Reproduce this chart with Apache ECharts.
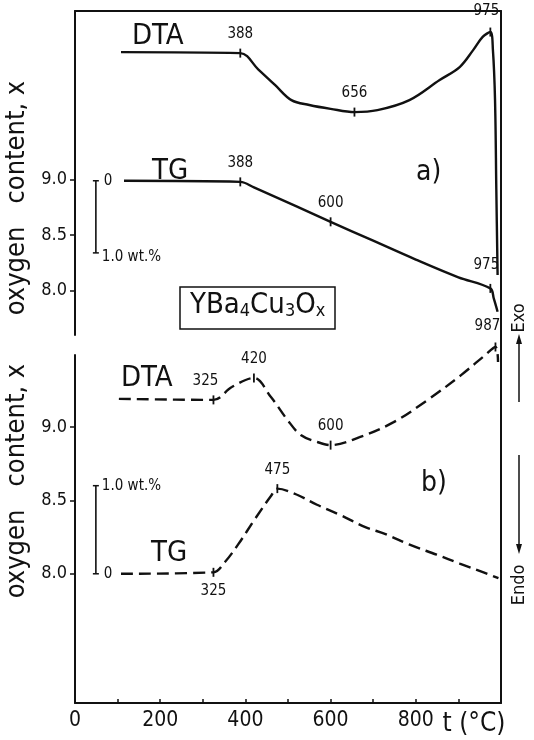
<!DOCTYPE html>
<html><head><meta charset="utf-8">
<script src="https://cdn.jsdelivr.net/npm/echarts@6/dist/echarts.min.js"></script>
<style>html,body{margin:0;padding:0;background:#fff}#c{width:534px;height:740px}</style>
</head><body><div id="c"></div>
<script>
// ---------------- data ----------------
const tempLabels = [0, 200, 400, 600, 800];          // labelled x ticks (°C)
const oxyTicks = [8.0, 8.5, 9.0];                     // oxygen content ticks

// a) DTA, arbitrary units (exo up)
const dtaA_t = [108, 388, 430, 470, 508, 550, 600, 656, 710, 785, 856, 903, 935, 957, 975, 981, 986, 989, 992];
const dtaA_v = [87.3, 87.0, 82.0, 77.1, 72.5, 71.0, 69.8, 68.8, 69.4, 72.5, 78.7, 82.7, 88.0, 92.0, 93.5, 88.0, 72.5, 45.0, 18.5];
const dtaA_marks = [388, 656, 975];

// a) TG, oxygen content x
const tgA_t = [115, 388, 420, 520, 600, 700, 800, 900, 975, 983, 992];
const tgA_x = [8.99, 8.98, 8.93, 8.76, 8.62, 8.45, 8.28, 8.12, 8.02, 7.93, 7.81];
const tgA_marks = [388, 600, 975];

// b) DTA, arbitrary units
const dtaB_t = [103, 325, 368, 420, 460, 499, 530, 569, 600, 668, 748, 828, 907, 963, 987, 993];
const dtaB_v = [87.4, 87.1, 90.8, 93.4, 87.9, 81.3, 77.0, 75.0, 74.1, 76.4, 80.7, 87.1, 94.3, 100.0, 102.3, 98.0];
const dtaB_marks = [325, 420, 600, 987];

// b) TG, oxygen content x
const tgB_t = [108, 325, 352, 383, 424, 460, 475, 520, 568, 623, 680, 729, 784, 849, 903, 959, 994];
const tgB_x = [8.00, 8.01, 8.08, 8.20, 8.38, 8.53, 8.58, 8.54, 8.47, 8.40, 8.32, 8.27, 8.20, 8.13, 8.07, 8.01, 7.97];
const tgB_marks = [325, 475];

// 1.0 wt.% scale bars: [temperature, top value, bottom value]
const scaleA = [49, 8.99, 8.34];
const scaleB = [49, 8.60, 8.00];
const scaleText = ['0', '1.0 wt.%'];

// ---------------- chart ----------------
const FONT = "'DejaVu Sans Condensed','Liberation Sans Narrow','Arial Narrow',sans-serif";
const INK = '#111';
const L = 75, R = 33;

const markLabel = {
  dtaA: {388: ['top', [0, -2]], 656: ['top', [0, -2]], 975: ['top', [-4, -4]]},
  tgA:  {388: ['top', [0, -2]], 600: ['top', [0, -2]], 975: ['top', [-4, -6]]},
  dtaB: {325: ['top', [-8, -2]], 420: ['top', [0, -2]], 600: ['top', [0, -2]], 987: ['top', [-8, -4]]},
  tgB:  {325: ['bottom', [0, 2]], 475: ['top', [0, -2]]}
};

function build(ts, vs, marks, key) {
  return ts.map((t, i) => {
    if (marks.indexOf(t) >= 0) {
      const p = markLabel[key][t];
      return {
        value: [t, vs[i]],
        symbol: 'rect', symbolSize: [1.8, 9],
        itemStyle: {color: INK},
        label: {show: true, formatter: String(t), position: p[0], offset: p[1],
                fontFamily: FONT, fontSize: 15, color: INK}
      };
    }
    return {value: [t, vs[i]], symbol: 'none'};
  });
}

function scaleBar(s, topLbl, botLbl, topOff, botOff) {
  return [
    {value: [s[0], s[1]], label: {show: true, formatter: topLbl, position: 'right', offset: topOff,
      fontFamily: FONT, fontSize: 15, color: INK}},
    {value: [s[0], s[2]], label: {show: true, formatter: botLbl, position: 'right', offset: botOff,
      fontFamily: FONT, fontSize: 15, color: INK}}
  ];
}

const chart = echarts.init(document.getElementById('c'), null, {renderer: 'canvas'});
const solid = {color: INK, width: 2.4};
const dashed = {color: INK, width: 2.4, type: [12, 6]};

const hiddenX = (g) => ({type: 'value', gridIndex: g, min: 0, max: 1000, show: false});
const oxyAxis = (g, mn, mx, padding) => ({
  type: 'value', gridIndex: g, position: 'left', min: mn, max: mx,
  name: 'oxygen   content, x', nameLocation: 'middle', nameRotate: 90, nameGap: 36,
  nameTextStyle: {fontFamily: FONT, fontSize: 27, color: INK, padding: padding},
  axisLine: {show: true, lineStyle: {color: INK, width: 2}},
  axisTick: {show: true, inside: false, length: 5, customValues: oxyTicks, lineStyle: {color: INK, width: 1.5}},
  axisLabel: {show: true, customValues: oxyTicks, margin: 8, fontFamily: FONT, fontSize: 18, color: INK,
    formatter: v => v.toFixed(1)},
  splitLine: {show: false}
});

chart.setOption({
  animation: false,
  backgroundColor: '#fff',
  title: {
    text: 'YBa{s|4}Cu{s|3}O{s|x}',
    left: 180, top: 287, padding: [4, 10, 9, 10],
    borderColor: INK, borderWidth: 1.5,
    textStyle: {fontFamily: FONT, fontSize: 29, fontWeight: 'normal', color: INK,
      rich: {s: {fontFamily: FONT, fontSize: 18, color: INK, verticalAlign: 'bottom', lineHeight: 10}}}
  },
  grid: [
    {left: L, right: R, top: 11, bottom: 37, outerBoundsMode: 'none'},
    {left: L, right: R, top: 11, height: 324, outerBoundsMode: 'none'},
    {left: L, right: R, top: 355, bottom: 37, outerBoundsMode: 'none'}
  ],
  xAxis: [
    {type: 'value', gridIndex: 0, min: 0, max: 1000, interval: 100, position: 'bottom',
     name: 't (°C)', nameLocation: 'end', nameGap: -27,
     nameTextStyle: {fontFamily: FONT, fontSize: 26, color: INK, align: 'center', verticalAlign: 'top', padding: [8, 0, 0, 0]},
     axisLine: {show: true, onZero: false, lineStyle: {color: INK, width: 2}},
     axisTick: {show: true, inside: true, length: 4, lineStyle: {color: INK, width: 1.5}},
     axisLabel: {show: true, margin: 7, fontFamily: FONT, fontSize: 21, color: INK,
       showMaxLabel: false,
       formatter: v => tempLabels.indexOf(v) >= 0 ? String(v) : ''},
     splitLine: {show: false}},
    {type: 'value', gridIndex: 0, min: 0, max: 1000, position: 'top',
     axisLine: {show: true, onZero: false, lineStyle: {color: INK, width: 2}},
     axisTick: {show: false}, axisLabel: {show: false}, splitLine: {show: false}},
    hiddenX(1), hiddenX(2)
  ],
  yAxis: [
    {type: 'value', gridIndex: 0, min: 0, max: 1, position: 'right',
     axisLine: {show: true, onZero: false, lineStyle: {color: INK, width: 2}},
     axisTick: {show: false}, axisLabel: {show: false}, splitLine: {show: false}},
    oxyAxis(1, 7.60, 10.52, [0, 50, 0, 0]),
    {type: 'value', gridIndex: 1, min: 0, max: 100, show: false},
    oxyAxis(2, 7.12, 9.49, [0, 0, 0, 96]),
    {type: 'value', gridIndex: 2, min: 0, max: 100, show: false}
  ],
  series: [
    {name: 'DTA a', type: 'line', xAxisIndex: 2, yAxisIndex: 2, smooth: 0.35,
     showSymbol: true, symbol: 'none', lineStyle: solid, clip: false,
     data: build(dtaA_t, dtaA_v, dtaA_marks, 'dtaA')},
    {name: 'TG a', type: 'line', xAxisIndex: 2, yAxisIndex: 1, smooth: 0.35,
     showSymbol: true, symbol: 'none', lineStyle: solid, clip: false,
     data: build(tgA_t, tgA_x, tgA_marks, 'tgA')},
    {name: 'DTA b', type: 'line', xAxisIndex: 3, yAxisIndex: 4, smooth: 0.35,
     showSymbol: true, symbol: 'none', lineStyle: dashed, clip: false,
     data: build(dtaB_t, dtaB_v, dtaB_marks, 'dtaB')},
    {name: 'TG b', type: 'line', xAxisIndex: 3, yAxisIndex: 3, smooth: 0.35,
     showSymbol: true, symbol: 'none', lineStyle: dashed, clip: false,
     data: build(tgB_t, tgB_x, tgB_marks, 'tgB')},
    {name: 'scale a', type: 'line', xAxisIndex: 2, yAxisIndex: 1, symbol: 'rect', symbolSize: [6, 1.5],
     itemStyle: {color: INK}, lineStyle: {color: INK, width: 1.6},
     data: scaleBar(scaleA, scaleText[0], scaleText[1], [0, 0], [-2, 4])},
    {name: 'scale b', type: 'line', xAxisIndex: 3, yAxisIndex: 3, symbol: 'rect', symbolSize: [6, 1.5],
     itemStyle: {color: INK}, lineStyle: {color: INK, width: 1.6},
     data: scaleBar(scaleB, scaleText[1], scaleText[0], [-2, 0], [0, 0])}
  ],
  graphic: [
    {type: 'text', left: 132, top: 22, style: {text: 'DTA', font: '29px ' + FONT, fill: INK}},
    {type: 'text', left: 152, top: 157, style: {text: 'TG', font: '29px ' + FONT, fill: INK}},
    {type: 'text', left: 416, top: 159, style: {text: 'a)', font: '28px ' + FONT, fill: INK}},
    {type: 'text', left: 121, top: 364, style: {text: 'DTA', font: '29px ' + FONT, fill: INK}},
    {type: 'text', left: 151, top: 539, style: {text: 'TG', font: '29px ' + FONT, fill: INK}},
    {type: 'text', left: 421, top: 470, style: {text: 'b)', font: '28px ' + FONT, fill: INK}},
    {type: 'text', x: 519, y: 318, rotation: Math.PI / 2,
     style: {text: 'Exo', font: '18px ' + FONT, fill: INK, align: 'center', verticalAlign: 'middle'}},
    {type: 'line', shape: {x1: 519, y1: 402, x2: 519, y2: 342}, style: {stroke: INK, lineWidth: 1.5}},
    {type: 'polygon', shape: {points: [[519, 334], [516, 344], [522, 344]]}, style: {fill: INK}},
    {type: 'line', shape: {x1: 519, y1: 455, x2: 519, y2: 546}, style: {stroke: INK, lineWidth: 1.5}},
    {type: 'polygon', shape: {points: [[519, 554], [516, 544], [522, 544]]}, style: {fill: INK}},
    {type: 'text', x: 519, y: 585, rotation: Math.PI / 2,
     style: {text: 'Endo', font: '18px ' + FONT, fill: INK, align: 'center', verticalAlign: 'middle'}}
  ]
});
</script></body></html>
